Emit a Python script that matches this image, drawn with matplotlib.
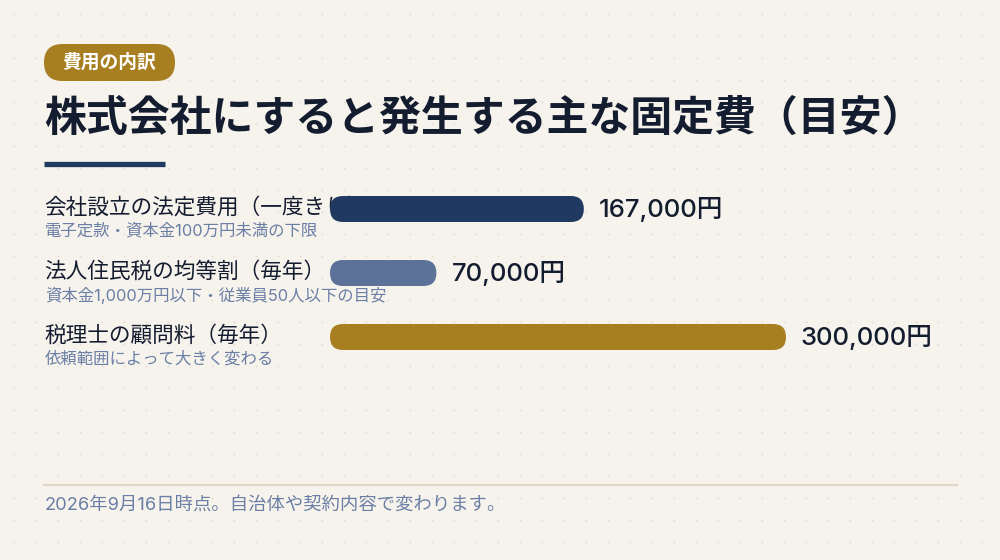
import matplotlib
matplotlib.use('Agg')
import matplotlib.pyplot as plt
import matplotlib.transforms as mtrans
from matplotlib.patches import FancyBboxPatch
import numpy as np

plt.rcParams['font.family'] = ['Inter', 'Noto Sans CJK JP', 'DejaVu Sans']

# データ
labels = ['会社設立の法定費用（一度きり）', '法人住民税の均等割（毎年）', '税理士の顧問料（毎年）']
notes = ['電子定款・資本金100万円未満の下限',
         '資本金1,000万円以下・従業員50人以下の目安',
         '依頼範囲によって大きく変わる']
values = [167000, 70000, 300000]
value_labels = ['167,000円', '70,000円', '300,000円']
colors = ['#1f3961', '#5c7299', '#a87f20']

badge = '費用の内訳'
title = '株式会社にすると発生する主な固定費（目安）'
footer = '2026年9月16日時点。自治体や契約内容で変わります。'

bg_col = '#f6f3ec'
ink = '#141c30'
muted = '#6a7ea6'

fig = plt.figure(figsize=(10, 5.6), dpi=100)
fig.patch.set_facecolor(bg_col)

# 背景（ピクセル座標）
bg = fig.add_axes([0, 0, 1, 1])
bg.set_xlim(0, 1000)
bg.set_ylim(560, 0)
bg.axis('off')
gx, gy = np.meshgrid(np.arange(14, 1000, 22), np.arange(14, 560, 22))
bg.scatter(gx.ravel(), gy.ravel(), s=1.3, color='#dfd8ca', lw=0, zorder=0)

bg.add_patch(FancyBboxPatch((44, 44), 131, 37, boxstyle='round,pad=0,rounding_size=18.5',
                            fc='#a87f20', ec='none'))
bg.text(109.5, 62.5, badge, color='white', fontsize=13.5, fontweight='bold',
        ha='center', va='center')
bg.text(44, 119, title, color=ink, fontsize=30.2, fontweight='bold', ha='left', va='center')
bg.plot([44, 165], [163.5, 163.5], color='#1f3961', lw=3.8, solid_capstyle='butt')

bg.plot([44, 957], [485, 485], color='#e0d9c8', lw=1.5)
bg.text(45, 505, footer, color=muted, fontsize=13.2, ha='left', va='center')

# 棒グラフ
ax = fig.add_axes([0.330, (560 - 369) / 560, 0.456, 192 / 560])
ax.set_xlim(0, max(values))
ax.set_ylim(len(values) - 0.5, -0.5)
ax.axis('off')
ax.patch.set_alpha(0)

fig.canvas.draw()
p0 = ax.transData.transform((0, 0))
p1 = ax.transData.transform((1, 1))
x_per_px = 1 / abs(p1[0] - p0[0])
y_per_px = 1 / abs(p1[1] - p0[1])
bar_h = 26 * y_per_px
r = 13 * x_per_px

lab_tr = mtrans.blended_transform_factory(bg.transData, ax.transData)
for i, (lab, note, v, vl, c) in enumerate(zip(labels, notes, values, value_labels, colors)):
    ax.add_patch(FancyBboxPatch((0, i - bar_h / 2), v, bar_h,
                                boxstyle=f'round,pad=0,rounding_size={r}',
                                mutation_aspect=y_per_px / x_per_px,
                                fc=c, ec='none', zorder=3))
    ax.text(44, i, lab, color=ink, fontsize=15.6, ha='left', va='center', zorder=1,
            transform=lab_tr + mtrans.ScaledTranslation(0, 2 / 100, fig.dpi_scale_trans))
    ax.text(45, i, note, color=muted, fontsize=11.8, ha='left', va='center', zorder=1,
            transform=lab_tr + mtrans.ScaledTranslation(0, -22 / 100, fig.dpi_scale_trans))
    ax.text(v, i, vl, color=ink, fontsize=18.5, fontweight='medium', ha='left', va='center',
            zorder=4,
            transform=ax.transData + mtrans.ScaledTranslation(15 / 100, 0, fig.dpi_scale_trans))

fig.savefig('out.png', dpi=100, facecolor=bg_col)
